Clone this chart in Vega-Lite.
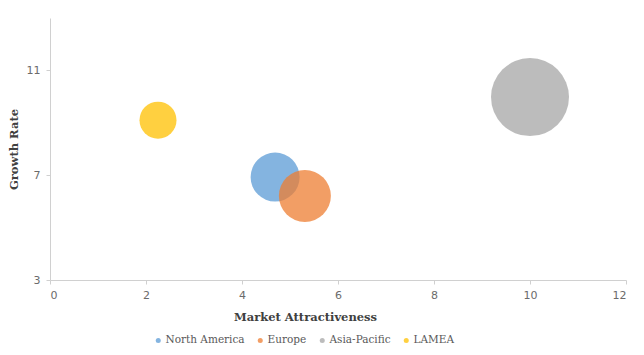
{
  "$schema": "https://vega.github.io/schema/vega-lite/v6.json",
  "width": 576,
  "height": 262,
  "autosize": "none",
  "padding": {"left": 50, "top": 18, "right": 18, "bottom": 75},
  "background": "white",
  "config": {
    "view": {"stroke": null},
    "axis": {
      "grid": false,
      "domainColor": "#d0d0d0",
      "tickColor": "#d0d0d0",
      "labelFont": "DejaVu Sans",
      "labelFontSize": 11,
      "labelColor": "#6b6b6b",
      "titleFont": "DejaVu Serif",
      "titleFontSize": 11.5,
      "titleFontWeight": "bold",
      "titleColor": "#404040"
    },
    "legend": {
      "labelFont": "DejaVu Serif",
      "labelFontSize": 10.5,
      "labelColor": "#595959"
    }
  },
  "data": {
    "values": [
      {"region": "North America", "attractiveness": 4.69, "growth": 6.93, "bubble": 2401},
      {"region": "Europe", "attractiveness": 5.31, "growth": 6.21, "bubble": 2704},
      {"region": "Asia-Pacific", "attractiveness": 10.0, "growth": 9.98, "bubble": 6084},
      {"region": "LAMEA", "attractiveness": 2.25, "growth": 9.1, "bubble": 1369}
    ]
  },
  "mark": {"type": "circle", "opacity": 0.75},
  "encoding": {
    "x": {
      "field": "attractiveness",
      "type": "quantitative",
      "scale": {"domain": [0, 12], "nice": false},
      "axis": {
        "values": [0, 2, 4, 6, 8, 10, 12],
        "title": "Market Attractiveness",
        "tickSize": 4,
        "labelPadding": 5,
        "titleX": 255,
        "titleY": 37,
        "titleAlign": "center",
        "titleBaseline": "middle"
      }
    },
    "y": {
      "field": "growth",
      "type": "quantitative",
      "scale": {"domain": [3, 13], "nice": false},
      "axis": {
        "values": [3, 7, 11],
        "title": "Growth Rate",
        "tickSize": 4,
        "labelPadding": 6,
        "titleX": -36,
        "titleY": 131,
        "titleAlign": "center",
        "titleBaseline": "middle"
      }
    },
    "size": {
      "field": "bubble",
      "type": "quantitative",
      "scale": {"type": "linear", "domain": [0, 6084], "range": [0, 6084]},
      "legend": null
    },
    "color": {
      "field": "region",
      "type": "nominal",
      "sort": null,
      "scale": {
        "domain": ["North America", "Europe", "Asia-Pacific", "LAMEA"],
        "range": ["#5B9BD5", "#ED7D31", "#A5A5A5", "#FFC000"]
      },
      "legend": {
        "title": null,
        "orient": "none",
        "direction": "horizontal",
        "legendX": 103,
        "legendY": 317,
        "symbolType": "circle",
        "symbolSize": 25,
        "symbolOpacity": 0.75,
        "labelFont": "DejaVu Serif",
        "labelOffset": 2,
        "columnPadding": 10
      }
    }
  }
}
